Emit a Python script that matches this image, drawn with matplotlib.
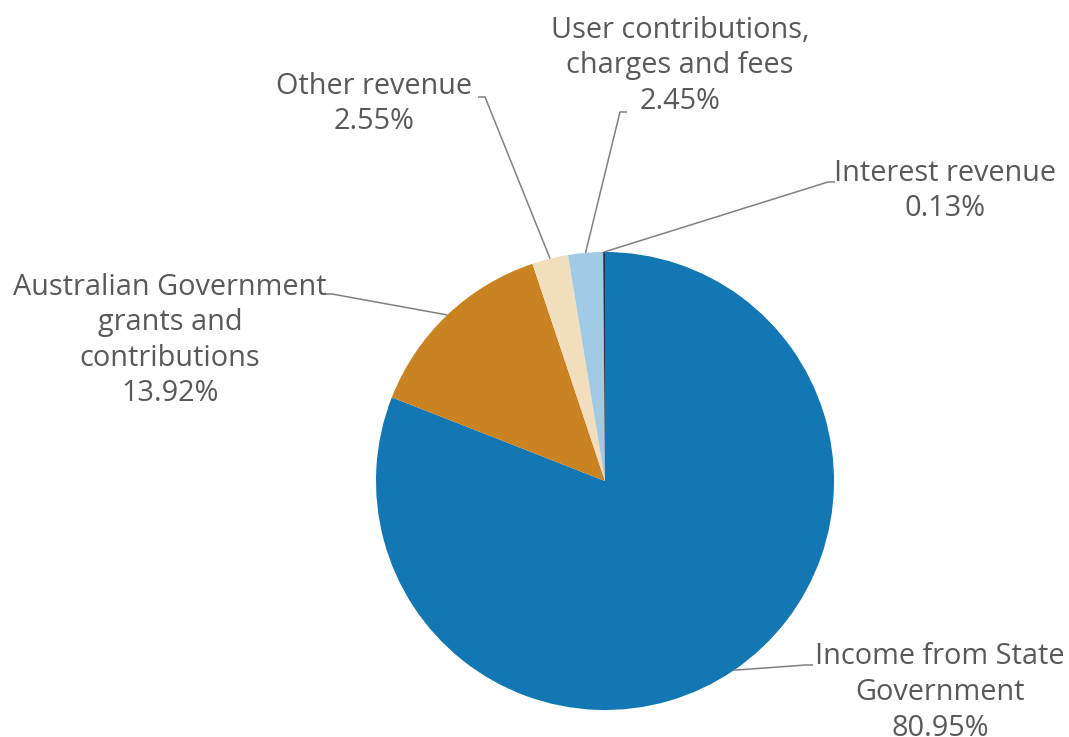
import numpy as np
import matplotlib
matplotlib.use("Agg")
import matplotlib.pyplot as plt

# Revenue composition
labels = ["Income from State\nGovernment",
          "Australian Government\ngrants and\ncontributions",
          "Other revenue",
          "User contributions,\ncharges and fees",
          "Interest revenue"]
shares = [80.95, 13.92, 2.55, 2.45, 0.13]
colors = ["#1277B2", "#C98322", "#F2DDBD", "#9FCBE4", "#26323F"]

W, H = 1069, 737
fig = plt.figure(figsize=(W / 100, H / 100), dpi=100)
ax = fig.add_axes([0, 0, 1, 1])

cx, cy, r = 605, H - 481, 229
wedges, _ = ax.pie(shares, colors=colors, startangle=90, counterclock=False,
                   center=(cx, cy), radius=r, frame=True,
                   wedgeprops=dict(linewidth=0))
ax.set_xlim(0, W)
ax.set_ylim(0, H)
ax.set_aspect("equal")
ax.axis("off")

# label text centre (x, y of first line) and leader-line elbow (x, y, side)
label_pos = [(940, 657, 813, 665, "left"),
             (170, 287, 325, 294, "right"),
             (374, 86, 478, 97, "right"),
             (680, 30, 627, 112, "left"),
             (945, 173, 835, 182, "left")]

text_color = "#595959"
line_h = 35.5
for w, lab, val, (tx, ty, ex, ey, side) in zip(wedges, labels, shares, label_pos):
    mid = np.deg2rad((w.theta1 + w.theta2) / 2)
    sx = cx + r * np.cos(mid)
    sy = cy + r * np.sin(mid)
    ey_d = H - ey
    knee = ex - 7 if side == "left" else ex + 7
    ax.plot([sx, knee, ex], [sy, ey_d, ey_d], color="#808080", lw=1.1,
            solid_capstyle="butt", zorder=1)
    lines = lab.split("\n") + [f"{val:.2f}%"]
    for i, ln in enumerate(lines):
        ax.text(tx, H - (ty + i * line_h), ln, ha="center", va="center",
                fontsize=20.8, color=text_color, family="Open Sans")

fig.savefig("out.png", dpi=100)
